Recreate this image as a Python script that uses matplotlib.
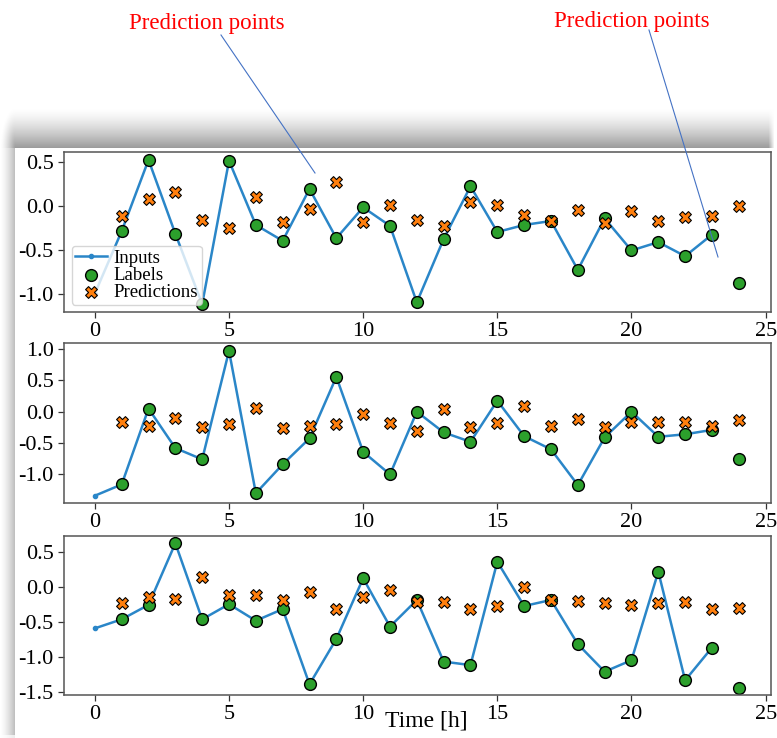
import numpy as np
import matplotlib
matplotlib.use("Agg")
import matplotlib.pyplot as plt
from matplotlib.lines import Line2D

plt.rcParams['font.family'] = ['Liberation Serif', 'DejaVu Serif']
plt.rcParams['axes.unicode_minus'] = False

# ---------------- data ----------------
input_steps = list(range(0, 24))
label_steps = list(range(1, 25))

inputs1 = [-1.0, -0.29, 0.52, -0.32, -1.12, 0.51, -0.22, -0.40, 0.19, -0.37, -0.02, -0.23,
           -1.10, -0.38, 0.22, -0.30, -0.22, -0.175, -0.73, -0.145, -0.51, -0.415, -0.575, -0.33]
labels1 = [-0.29, 0.52, -0.32, -1.12, 0.51, -0.22, -0.40, 0.19, -0.37, -0.02, -0.23, -1.10,
           -0.38, 0.22, -0.30, -0.22, -0.175, -0.73, -0.145, -0.51, -0.415, -0.575, -0.33, -0.875]
preds1 = [-0.12, 0.08, 0.15, -0.16, -0.26, 0.10, -0.19, -0.04, 0.27, -0.19, 0.01, -0.16,
          -0.23, 0.04, 0.01, -0.11, -0.175, -0.045, -0.20, -0.06, -0.175, -0.13, -0.12, 0.0]

inputs2 = [-1.34, -1.16, 0.05, -0.58, -0.76, 0.97, -1.30, -0.84, -0.425, 0.555, -0.64, -1.0,
           0.0, -0.33, -0.48, 0.175, -0.39, -0.60, -1.17, -0.41, 0.0, -0.40, -0.36, -0.29]
labels2 = [-1.16, 0.05, -0.58, -0.76, 0.97, -1.30, -0.84, -0.425, 0.555, -0.64, -1.0, 0.0,
           -0.33, -0.48, 0.175, -0.39, -0.60, -1.17, -0.41, 0.0, -0.40, -0.36, -0.29, -0.76]
preds2 = [-0.17, -0.23, -0.106, -0.25, -0.20, 0.054, -0.265, -0.23, -0.20, -0.04, -0.185, -0.30,
          0.037, -0.25, -0.185, 0.096, -0.22, -0.12, -0.25, -0.165, -0.165, -0.165, -0.22, -0.14]

inputs3 = [-0.595, -0.466, -0.26, 0.62, -0.466, -0.25, -0.486, -0.32, -1.394, -0.747, 0.12, -0.57,
           -0.19, -1.07, -1.12, 0.357, -0.276, -0.19, -0.82, -1.214, -1.05, 0.214, -1.337, -0.87]
labels3 = [-0.466, -0.26, 0.62, -0.466, -0.25, -0.486, -0.32, -1.394, -0.747, 0.12, -0.57, -0.19,
           -1.07, -1.12, 0.357, -0.276, -0.19, -0.82, -1.214, -1.05, 0.214, -1.337, -0.87, -1.45]
preds3 = [-0.24, -0.143, -0.176, 0.143, -0.12, -0.12, -0.19, -0.071, -0.32, -0.143, -0.05, -0.214,
          -0.214, -0.32, -0.276, 0.0, -0.19, -0.2, -0.24, -0.26, -0.24, -0.214, -0.32, -0.31]

x_ticks = [0, 5, 10, 15, 20, 25]
y_ticks1 = [0.5, 0.0, -0.5, -1.0]
y_ticks2 = [1.0, 0.5, 0.0, -0.5, -1.0]
y_ticks3 = [0.5, 0.0, -0.5, -1.0, -1.5]
annotation_text = "Prediction points"
x_label = "Time [h]"

# ---------------- figure ----------------
W, H = 777, 738
fig = plt.figure(figsize=(W / 100, H / 100), dpi=100)

# background "card" with soft drop shadow
bg = fig.add_axes([0, 0, 1, 1], zorder=-5)
yy, xx = np.mgrid[0:H, 0:W].astype(float)
card_x0, card_y0, card_x1 = 15.0, 148.0, 774.0
dx = np.clip(card_x0 - xx, 0, None)
dy = np.clip(card_y0 - yy, 0, None)
r = np.sqrt((dx / 15.0) ** 2 + (dy / 40.0) ** 2)
amax = np.where(dy > 0, 0.40, 0.27)
dark = np.where(r < 1, amax * (1 - r) ** 1.4, 0.0)
dark[(dx == 0) & (dy == 0)] = 0.0
# fade the top shadow at the right end
fade = np.clip((card_x1 - xx) / 6.0, 0, 1)
dark *= np.where(dy > 0, fade, 1.0)
dark[(yy > 734) & (dx > 0)] *= 0.3
img = 1.0 - dark
bg.imshow(np.dstack([img, img, img]), extent=(0, W, H, 0), aspect='auto', interpolation='bilinear')
bg.set_xlim(0, W)
bg.set_ylim(H, 0)
bg.axis('off')


def fx(px):
    return px / W


def fy(py):
    return 1 - py / H


left, right = 64, 771
panels = [
    (152, 312, inputs1, labels1, preds1, y_ticks1, (-1.21, 0.61)),
    (343, 503, inputs2, labels2, preds2, y_ticks2, (-1.456, 1.096)),
    (536, 695, inputs3, labels3, preds3, y_ticks3, (-1.547, 0.724)),
]

axes = []
for top, bot, inp, lab, pre, yt, ylim in panels:
    ax = fig.add_axes([fx(left), fy(bot), fx(right) - fx(left), fy(top) - fy(bot)])
    ax.plot(input_steps, inp, label='Inputs', marker='.', zorder=-10, color='#2a86c8', lw=1.8)
    ax.scatter(label_steps, lab, edgecolors='k', label='Labels', c='#2ca02c', s=72, linewidths=1.0)
    ax.scatter(label_steps, pre, marker='X', edgecolors='k', label='Predictions',
               c='#ff7f0e', s=72, linewidths=0.8)
    ax.set_xlim(-1.15, 25.2)
    ax.set_ylim(*ylim)
    ax.set_xticks(x_ticks)
    ax.set_yticks(yt)
    ax.set_yticklabels([f"{v:.1f}" for v in yt])
    ax.tick_params(labelsize=16, colors='#333333', labelcolor='black', length=4, width=0.9)
    for s in ax.spines.values():
        s.set_color('#555555')
        s.set_linewidth(1.1)
    axes.append(ax)

leg = axes[0].legend(loc='lower left', fontsize=13.5, labelspacing=0.0, borderpad=0.2,
                     handletextpad=0.35, borderaxespad=0.4, handlelength=1.7)

axes[2].set_xlabel(x_label, fontsize=17)
axes[2].xaxis.set_label_coords((426.5 - left) / (right - left), -0.095)

# red annotations and their leader lines
fig.text(fx(207), fy(29), annotation_text, color='red', fontsize=16.5,
         ha='center', va='baseline')
fig.text(fx(632), fy(27), annotation_text, color='red', fontsize=16.5,
         ha='center', va='baseline')
fig.add_artist(Line2D([fx(221), fx(315)], [fy(35), fy(173)], color='#4472c4', lw=0.8,
                      transform=fig.transFigure))
fig.add_artist(Line2D([fx(649), fx(718)], [fy(30), fy(257)], color='#4472c4', lw=0.8,
                      transform=fig.transFigure))

fig.savefig('out.png', dpi=100)
